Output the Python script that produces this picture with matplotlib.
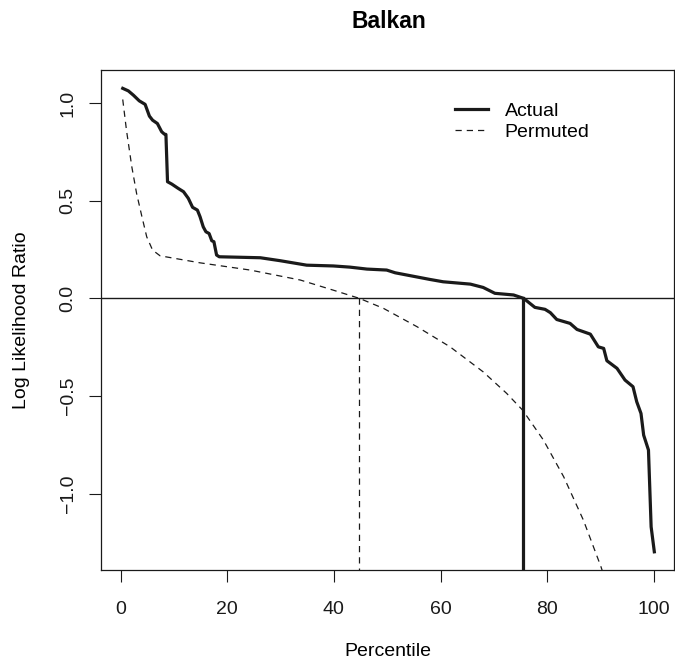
import matplotlib
matplotlib.use("Agg")
import matplotlib.pyplot as plt

plt.rcParams['font.family'] = ['Liberation Sans', 'DejaVu Sans']

# values
actual_pct = [0.4, 1.45, 2.4, 3.5, 4.6, 5.4, 6.0, 6.9, 7.7, 8.2, 8.5, 8.8, 9.6, 10.8,
              11.8, 12.7, 13.5, 14.4, 14.9, 15.5, 16.0, 16.6, 17.1, 17.5, 18.0, 18.5,
              26.2, 29.9, 34.9, 39.9, 43.0, 46.2, 49.9, 51.5, 58.0, 60.5, 65.6, 68.0,
              70.2, 73.7, 75.6, 77.7, 79.6, 80.6, 81.8, 84.3, 85.6, 88.1, 89.6, 90.6,
              91.2, 93.1, 94.6, 96.1, 96.8, 97.6, 98.1, 99.0, 99.5, 100.1]
actual_llr = [1.075, 1.062, 1.040, 1.011, 0.993, 0.933, 0.912, 0.895, 0.853, 0.841, 0.839,
              0.597, 0.585, 0.563, 0.546, 0.512, 0.466, 0.452, 0.418, 0.366, 0.341, 0.332,
              0.295, 0.290, 0.222, 0.213, 0.208, 0.193, 0.170, 0.166, 0.160, 0.150, 0.145,
              0.131, 0.097, 0.085, 0.073, 0.056, 0.026, 0.0175, 0.0, -0.046, -0.056, -0.073,
              -0.108, -0.128, -0.159, -0.183, -0.248, -0.256, -0.319, -0.358, -0.418,
              -0.452, -0.529, -0.589, -0.700, -0.776, -1.169, -1.297]

perm_pct = [0.4, 1.1, 2.1, 3.0, 4.0, 4.9, 6.0, 7.4, 14.9, 24.3, 33.7, 39.9, 44.8,
            49.3, 55.6, 61.8, 68.0, 72.4, 75.4, 79.3, 83.1, 86.8, 90.1, 91.0]
perm_llr = [1.018, 0.861, 0.674, 0.537, 0.418, 0.315, 0.247, 0.218, 0.182, 0.145, 0.094,
            0.042, 0.0, -0.051, -0.145, -0.248, -0.376, -0.486, -0.572, -0.725, -0.913,
            -1.135, -1.374, -1.45]

actual_cut = 75.4
perm_cut = 44.8

fig = plt.figure(figsize=(6.75, 6.62), dpi=100)
ax = fig.add_axes([0.1496, 0.139, 0.849, 0.755])

ax.plot(actual_pct, actual_llr, color='#1a1a1a', lw=2.3, label='Actual')
ax.plot(perm_pct, perm_llr, color='#1a1a1a', lw=0.9, ls=(0, (5, 4)), label='Permuted')
ax.axhline(0, color='#1a1a1a', lw=1.0)
ax.plot([actual_cut, actual_cut], [0, -2], color='#1a1a1a', lw=2.3)
ax.plot([perm_cut, perm_cut], [0, -2], color='#1a1a1a', lw=0.9, ls=(0, (5, 4)))

ax.set_xlim(-3.68, 103.8)
ax.set_ylim(-1.39, 1.168)
ax.set_xticks([0, 20, 40, 60, 80, 100])
ax.set_yticks([-1.0, -0.5, 0.0, 0.5, 1.0])
ax.set_yticklabels(['\u22121.0', '\u22120.5', '0.0', '0.5', '1.0'], rotation=90, va='center')
ax.tick_params(axis='both', direction='out', length=8.5, width=0.8, labelsize=14, colors='#1a1a1a')
ax.tick_params(axis='x', pad=13.5)
ax.tick_params(axis='y', pad=9)
for s in ax.spines.values():
    s.set_linewidth(0.9)
    s.set_color('#1a1a1a')

ax.set_ylabel('Log Likelihood Ratio', fontsize=14, labelpad=21.5)
fig.text(388 / 675, 1 - 660 / 662, 'Percentile', fontsize=14, ha='center', va='bottom')
fig.text(389 / 675, 1 - 21 / 662, 'Balkan', fontsize=16.5, fontweight='bold', ha='center', va='center')

ax.legend(loc='upper left', bbox_to_anchor=(455 / 675, 1 - 102 / 662), bbox_transform=fig.transFigure,
          frameon=False, fontsize=14, handlelength=1.7, handletextpad=0.85, labelspacing=0.2,
          borderpad=0, borderaxespad=0)

fig.savefig('out.png', dpi=100)
